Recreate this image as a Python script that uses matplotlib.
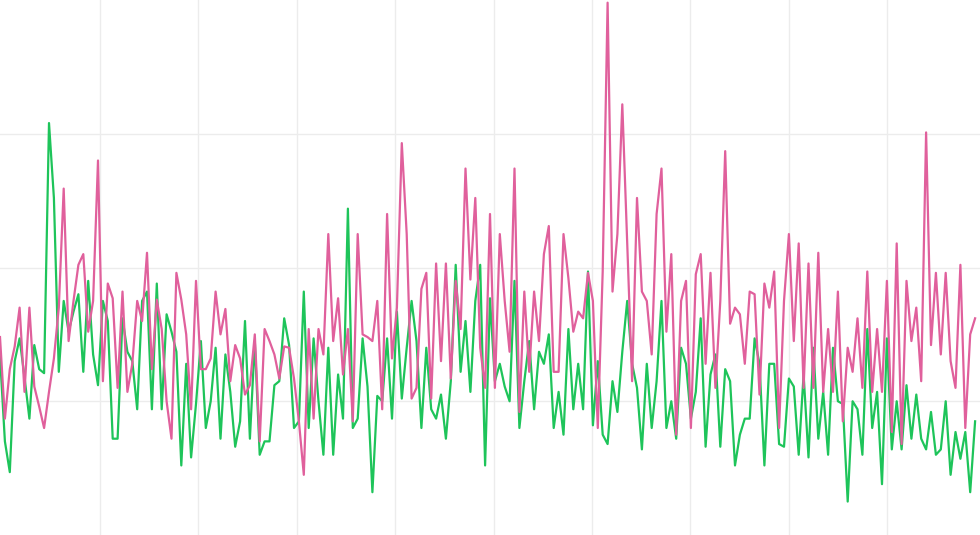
import numpy as np
import matplotlib
matplotlib.use('Agg')
import matplotlib.pyplot as plt

# Series values (one value per sample)
pink_values = [
    148, 87, 124, 141, 170, 107, 170, 111, 96, 80, 107, 132, 170, 259, 145, 175, 202, 210, 152, 175, 280, 115, 188, 177, 110,
    182, 107, 128, 175, 160, 211, 124, 176, 154, 100, 72, 196, 176, 150, 94, 190, 124, 124, 132, 182, 150, 169, 115, 142, 132,
    105, 112, 150, 70, 154, 145, 135, 117, 141, 140, 117, 85, 45, 154, 87, 154, 135, 225, 145, 177, 120, 154, 85, 225, 150,
    148, 145, 175, 94, 240, 132, 170, 293, 225, 102, 110, 184, 196, 102, 203, 130, 203, 117, 190, 154, 274, 191, 252, 140, 110,
    240, 110, 225, 175, 137, 274, 92, 182, 122, 182, 145, 210, 231, 122, 122, 225, 192, 152, 167, 162, 196, 175, 80, 197, 398,
    182, 225, 322, 218, 115, 252, 182, 175, 135, 240, 274, 152, 210, 75, 175, 190, 80, 195, 210, 128, 196, 110, 175, 287, 158,
    170, 165, 128, 182, 180, 105, 188, 170, 197, 80, 175, 225, 145, 218, 110, 203, 110, 211, 107, 154, 107, 182, 85, 140, 122,
    162, 110, 197, 107, 154, 107, 190, 77, 218, 68, 190, 145, 170, 115, 301, 142, 196, 135, 196, 130, 110, 202, 80, 150, 162,
]

green_values = [
    134, 70, 47, 130, 147, 118, 87, 142, 124, 121, 308, 252, 122, 175, 152, 167, 180, 122, 190, 135, 112, 175, 160, 72, 72,
    162, 137, 130, 94, 175, 182, 94, 188, 94, 165, 152, 137, 52, 128, 58, 98, 145, 80, 100, 140, 72, 135, 107, 66, 85,
    160, 72, 145, 60, 70, 70, 112, 115, 162, 142, 80, 85, 182, 80, 147, 100, 60, 140, 60, 120, 87, 244, 80, 87, 147,
    111, 32, 104, 100, 147, 87, 167, 102, 140, 175, 145, 80, 140, 94, 87, 105, 72, 115, 202, 122, 160, 107, 175, 202, 52,
    177, 115, 128, 111, 100, 190, 80, 115, 145, 94, 137, 128, 150, 80, 107, 75, 154, 94, 128, 94, 197, 82, 130, 75, 68,
    115, 92, 137, 175, 128, 110, 64, 128, 80, 115, 175, 80, 100, 72, 140, 128, 87, 107, 162, 66, 120, 135, 66, 124, 115,
    52, 75, 87, 87, 147, 128, 52, 128, 128, 68, 66, 117, 111, 60, 120, 58, 140, 72, 107, 60, 140, 100, 98, 25, 100,
    94, 60, 154, 80, 107, 38, 147, 64, 100, 64, 112, 72, 105, 72, 64, 92, 60, 64, 100, 45, 77, 57, 77, 32, 85,
]

pink_colour = '#e0609c'
green_colour = '#1ec45a'


def main():
    x = np.arange(len(pink_values))

    fig = plt.figure(figsize=(9.8, 5.35), dpi=100)
    ax = fig.add_axes([0, 0, 1, 1])

    ax.plot(x, green_values, color=green_colour, linewidth=1.6, zorder=2)
    ax.plot(x, pink_values, color=pink_colour, linewidth=1.6, zorder=3)

    # Format plot - bare grid, no ticks or labels
    ax.set_xlim(0, 200)
    ax.set_ylim(0, 400)
    ax.set_xticks(np.arange(20.4, 200, 20.08))
    ax.set_yticks([100, 200, 300])
    ax.grid(True, color='#ececec', linewidth=1.0, zorder=0)
    ax.tick_params(length=0, labelbottom=False, labelleft=False)
    for spine in ax.spines.values():
        spine.set_visible(False)

    fig.savefig('out.png', dpi=100)


if __name__ == "__main__":
    main()
